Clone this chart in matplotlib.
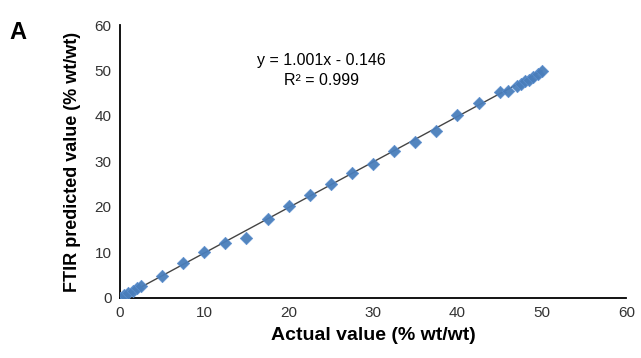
import numpy as np
import matplotlib
matplotlib.use("Agg")
import matplotlib.pyplot as plt

plt.rcParams['font.family'] = ['Liberation Sans', 'DejaVu Sans']

# actual vs FTIR predicted (% wt/wt)
actual = [0, 0.5, 1, 1.5, 2, 2.5, 5, 7.5, 10, 12.5, 15, 17.5, 20, 22.5, 25,
          27.5, 30, 32.5, 35, 37.5, 40, 42.5, 45, 46, 47, 47.5, 48, 48.5,
          49, 49.5, 50]
predicted = [0, 0.6, 1.1, 1.6, 2.1, 2.6, 4.9, 7.7, 10.0, 12.0, 13.2, 17.3,
             20.2, 22.7, 25.1, 27.5, 29.4, 32.2, 34.2, 36.6, 40.2, 42.8,
             45.3, 45.6, 46.7, 47.0, 47.6, 48.0, 48.6, 49.2, 49.9]
slope = 1.001
intercept = -0.146

fig = plt.figure(figsize=(6.41, 3.58), dpi=100)
ax = fig.add_axes([0.187, 0.168, 0.79, 0.762])

xfit = np.array([0, 50])
ax.plot(xfit, slope * xfit + intercept, color='#444444', lw=1.0, zorder=2)
ax.scatter(actual, predicted, marker='D', s=40, color='#4A7EBB',
           edgecolors='#5B8FD0', linewidths=0.5, zorder=3, alpha=0.95)

ax.set_xlim(0, 60)
ax.set_ylim(0, 60)
ax.set_xticks(range(0, 61, 10))
ax.set_yticks(range(0, 61, 10))
ax.tick_params(length=0, labelsize=11, pad=6, colors='#333333')
for s in ['top', 'right']:
    ax.spines[s].set_visible(False)
for s in ['left', 'bottom']:
    ax.spines[s].set_linewidth(1.3)

ax.set_xlabel('Actual value (% wt/wt)', fontsize=14, fontweight='bold', labelpad=5)
ax.set_ylabel('FTIR predicted value (% wt/wt)', fontsize=13, fontweight='bold', labelpad=10)

ax.text(23.9, 52.3, 'y = 1.001x - 0.146', ha='center', va='center', fontsize=11.5)
ax.text(23.9, 47.9, 'R² = 0.999', ha='center', va='center', fontsize=11.5)

fig.text(0.028, 0.91, 'A', fontsize=17, fontweight='bold', ha='center', va='center')

fig.savefig('out.png', dpi=100)
